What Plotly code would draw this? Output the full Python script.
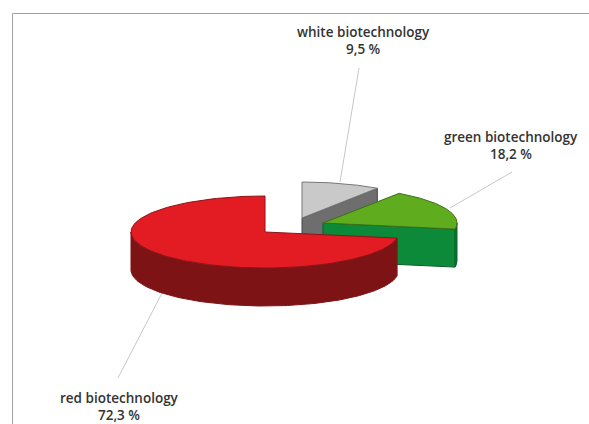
import numpy as np
import plotly.graph_objects as go

# Data, clockwise from 12 o'clock
categories = ["white biotechnology", "green biotechnology", "red biotechnology"]
shares = [9.5, 18.2, 72.3]
share_labels = ["9,5 %", "18,2 %", "72,3 %"]

# Drawing style (pixel-based canvas)
W, H = 589, 424
RX, RY, DEPTH = 134, 36, 38
centers = [(302, 218), (323, 223), (265, 232)]
top_colors = ["#C9C9C9", "#5FAC1F", "#E31B23"]
wall_colors = ["#6E6E6E", "#0C8A3A", "#7E1316"]
rim_colors = ["#6E6E6E", "#0A6A2C", "#7E1316"]
edge_colors = ["#777777", "#3F6F1A", "#8A1518"]
label_pos = [(363, 32), (511, 137), (119, 398)]
leader_ends = [((359, 68), (340, 182)), ((512, 172), (450, 208)), ((118, 378), (162, 293))]


def rim(cx, cy, a0, a1, dy=0, n=160):
    t = np.radians(np.linspace(a0, a1, n))
    return cx + RX * np.cos(t), cy - RY * np.sin(t) + dy


def poly(x, y, fill, line, width=1):
    return go.Scatter(
        x=x, y=y, mode="lines", fill="toself", fillcolor=fill,
        line=dict(color=line, width=width), hoverinfo="skip", showlegend=False,
    )


fig = go.Figure()

# leader lines go behind the pie
for (p, q) in leader_ends:
    fig.add_trace(go.Scatter(x=[p[0], q[0]], y=[p[1], q[1]], mode="lines",
                             line=dict(color="#C8C8C8", width=1),
                             hoverinfo="skip", showlegend=False))

# sector angles from the shares (degrees, math convention)
ends = 90 - np.cumsum(shares) * 3.6
starts = np.concatenate([[90], ends[:-1]])

for i in range(len(shares)):
    a0, a1 = starts[i], ends[i]
    cx, cy = centers[i]
    sx, sy = rim(cx, cy, a0, a1)

    # cut face on the end-angle side, facing the viewer
    if a1 > -90:
        ex, ey = rim(cx, cy, a1, a1, n=1)
        fig.add_trace(poly(
            [cx, ex[0], ex[0], cx, cx],
            [cy, ey[0], ey[0] + DEPTH, cy + DEPTH, cy],
            wall_colors[i], "#444444" if i == 0 else "#0A5E28",
        ))

    # outer wall: the part of the arc below the horizontal
    wall_from, wall_to = max(a1, -180), min(a0, 0)
    if wall_from < wall_to:
        wx, wy = rim(cx, cy, wall_from, wall_to)
        fig.add_trace(poly(
            np.concatenate([wx, wx[::-1], wx[:1]]),
            np.concatenate([wy, wy[::-1] + DEPTH, wy[:1]]),
            rim_colors[i], rim_colors[i],
        ))

    # top face
    fig.add_trace(poly(
        np.concatenate([[cx], sx, [cx]]),
        np.concatenate([[cy], sy, [cy]]),
        top_colors[i], edge_colors[i],
    ))

annotations = []
for name, lab, (x, y) in zip(categories, share_labels, label_pos):
    for text, yy in ((name, y), (lab, y + 17)):
        annotations.append(dict(
            x=x, y=yy, text=text, showarrow=False, xanchor="center", yanchor="middle",
            borderpad=0,
            font=dict(family="Open Sans", size=13.5, color="#333333", weight=600),
        ))

fig.update_layout(
    width=W, height=H, margin=dict(l=0, r=0, t=0, b=0),
    paper_bgcolor="white", plot_bgcolor="white", showlegend=False,
    xaxis=dict(range=[0, W], visible=False, fixedrange=True),
    yaxis=dict(range=[H, 0], visible=False, fixedrange=True),
    annotations=annotations,
    shapes=[
        dict(type="line", x0=12.5, x1=W, y0=13.5, y1=13.5, line=dict(color="#A0A0A0", width=1)),
        dict(type="line", x0=12.5, x1=12.5, y0=13.5, y1=H, line=dict(color="#A0A0A0", width=1)),
    ],
)

fig.write_html("out.html", config={"displayModeBar": False},
               post_script="document.body.style.margin='0';document.body.style.overflow='hidden';")
